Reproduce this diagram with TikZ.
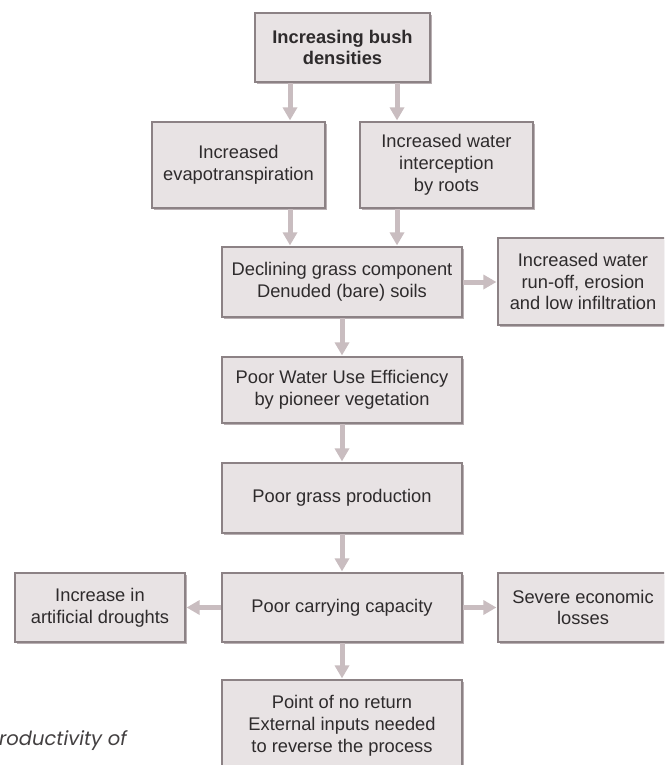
\documentclass[tikz,border=0pt]{standalone}
\usepackage{fontspec}
\setmainfont{Liberation Sans}
\newfontfamily\capfont{Poppins}
\usetikzlibrary{arrows.meta,shadows}
\definecolor{boxfill}{HTML}{E8E3E4}
\definecolor{boxline}{HTML}{8C8285}
\definecolor{arrcol}{HTML}{C9BDC0}
\definecolor{txtcol}{HTML}{2E2B2C}
\definecolor{shcol}{HTML}{A89DA0}
\tikzset{
  fbox/.style={draw=boxline, line width=1.6pt, fill=boxfill, text=txtcol,
    align=center, inner sep=0pt,
    font=\fontsize{18.3}{21.8}\selectfont,
    drop shadow={shadow xshift=1.8pt, shadow yshift=-2pt, fill=shcol, opacity=0.8}},
  arr/.style={draw=arrcol, line width=5pt,
    -{Triangle[width=14pt,length=13pt]}, shorten >=0.8pt},
}
\begin{document}
\begin{tikzpicture}[x=1pt,y=-1pt]
\clip (0,0) rectangle (664,765);
\fill[white] (0,0) rectangle (664,765);
\node[fbox, minimum width=175pt, minimum height=69pt] (top) at (342.5,47.5) {\bfseries Increasing bush\\\bfseries densities};
\node[fbox, minimum width=173pt, minimum height=86pt] (evap) at (238.5,165) {Increased\\evapotranspiration};
\node[fbox, minimum width=173pt, minimum height=86pt] (inter) at (446.5,165) {Increased water\\interception\\by roots};
\node[fbox, minimum width=240pt, minimum height=70pt] (decl) at (342,282) {Declining grass component\\Denuded (bare) soils};
\node[fbox, minimum width=170pt, minimum height=87pt] (runoff) at (583,281.5) {Increased water\\run-off, erosion\\and low infiltration};
\node[fbox, minimum width=240pt, minimum height=66pt] (wue) at (342,390) {Poor Water Use Efficiency\\by pioneer vegetation};
\node[fbox, minimum width=240pt, minimum height=70pt] (grass) at (342,498) {Poor grass production};
\node[fbox, minimum width=240pt, minimum height=69pt] (carry) at (342,607.5) {Poor carrying capacity};
\node[fbox, minimum width=170pt, minimum height=69pt] (left) at (100,607.5) {Increase in\\artificial droughts};
\node[fbox, minimum width=170pt, minimum height=69pt] (right) at (583,607.5) {Severe economic\\losses};
\node[fbox, minimum width=240pt, minimum height=92pt] (bottom) at (342,726) {Point of no return\\External inputs needed\\to reverse the process};
\node[anchor=base west, inner sep=0pt, text=txtcol!90, font=\capfont\itshape\fontsize{19.5}{22}\selectfont] (cap) at (-1,745) {roductivity of};
\coordinate (xa) at (290,0);
\coordinate (xb) at (397,0);
\draw[arr] (top.south -| xa) -- (evap.north -| xa);
\draw[arr] (top.south -| xb) -- (inter.north -| xb);
\draw[arr] (evap.south -| xa) -- (decl.north -| xa);
\draw[arr] (inter.south -| xb) -- (decl.north -| xb);
\draw[arr] (decl.east) -- (runoff.west |- decl.east);
\draw[arr] (decl) -- (wue);
\draw[arr] (wue) -- (grass);
\draw[arr] (grass) -- (carry);
\draw[arr] (carry) -- (left);
\draw[arr] (carry) -- (right);
\draw[arr] (carry) -- (bottom);
\end{tikzpicture}
\end{document}
